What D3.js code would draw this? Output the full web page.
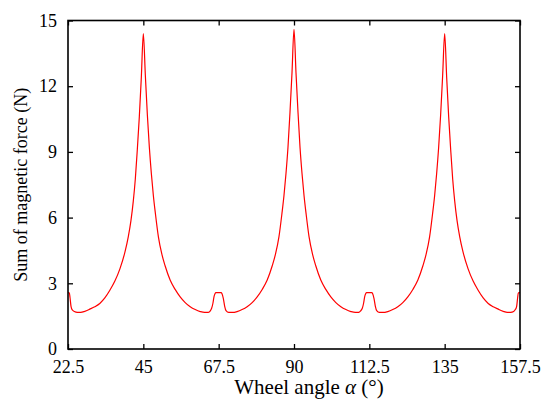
<!DOCTYPE html>
<html>
<head>
<meta charset="utf-8">
<script src="https://cdn.jsdelivr.net/npm/d3@7/dist/d3.min.js"></script>
<style>
  html, body { margin: 0; padding: 0; background: #fff; }
  svg { display: block; }
  .tick text { font-family: "Liberation Serif", "Times New Roman", serif; font-size: 18px; fill: #000; }
  .title { font-family: "Liberation Serif", "Times New Roman", serif; font-size: 18px; fill: #000; }
  .xtitle { font-size: 21px; }
</style>
</head>
<body>
<svg id="chart" width="543" height="411"></svg>
<script>
// values
const xTicks = [22.5, 45, 67.5, 90, 112.5, 135, 157.5];
const yTicks = [0, 3, 6, 9, 12, 15];

const angle = [
  22.5, 22.9, 23.1, 23.4, 23.8, 24.4, 25.3, 26.3, 27.5, 29.0, 30.5, 32.0, 33.5, 35.0, 36.5, 38.0,
  39.5, 40.5, 41.3, 42.0, 42.6, 43.2, 43.8, 44.4, 45.0,
  45.6, 46.2, 46.8, 47.4, 48.0, 48.6, 49.5, 50.5, 51.5, 53.0, 54.5, 56.0, 57.5, 59.0, 60.5, 62.0,
  63.3, 64.4, 65.0, 65.4, 65.8, 66.1, 66.4, 66.7, 68.2, 68.5, 68.9, 69.3, 69.7, 70.5,
  71.6, 73.0, 74.5, 76.0, 77.5, 79.0, 80.5, 82.0, 83.5, 84.5, 85.5, 86.4, 87.0, 87.6, 88.2, 88.8, 89.4, 90.0,
  90.6, 91.2, 91.8, 92.4, 93.0, 93.6, 94.5, 95.5, 96.5, 98.0, 99.5, 101.0, 102.5, 104.0, 105.5, 107.0,
  108.3, 109.3, 109.9, 110.4, 110.8, 111.1, 111.4, 111.7, 113.2, 113.5, 113.9, 114.3, 114.7, 115.5,
  116.5, 118.0, 119.5, 121.0, 122.5, 124.0, 125.5, 127.0, 128.5, 129.5, 130.5, 131.4, 132.0, 132.6, 133.2, 133.8, 134.4, 135.0,
  135.6, 136.2, 136.8, 137.4, 138.0, 138.7, 139.5, 140.5, 142.0, 143.5, 145.0, 146.5, 148.0, 149.5, 151.0, 152.5,
  153.7, 154.7, 155.6, 156.1, 156.5, 156.8, 157.0, 157.5
];

const force = [
  2.57, 2.56, 2.35, 1.95, 1.78, 1.71, 1.67, 1.67, 1.72, 1.82, 1.93, 2.08, 2.33, 2.68, 3.10, 3.66,
  4.42, 5.12, 5.86, 6.75, 7.75, 9.10, 10.60, 12.40, 14.40,
  12.50, 10.70, 9.20, 8.00, 7.00, 6.19, 5.12, 4.35, 3.80, 3.15, 2.72, 2.38, 2.12, 1.93, 1.80, 1.71,
  1.67, 1.67, 1.74, 1.86, 2.10, 2.38, 2.52, 2.57, 2.57, 2.52, 2.30, 1.95, 1.75, 1.67,
  1.67, 1.71, 1.80, 1.93, 2.12, 2.38, 2.72, 3.15, 3.80, 4.35, 5.12, 6.19, 7.00, 8.00, 9.20, 10.80, 12.60, 14.60,
  12.60, 10.80, 9.20, 8.00, 7.00, 6.19, 5.12, 4.35, 3.80, 3.15, 2.72, 2.38, 2.12, 1.93, 1.80, 1.71,
  1.67, 1.67, 1.74, 1.86, 2.10, 2.38, 2.52, 2.57, 2.57, 2.52, 2.30, 1.95, 1.75, 1.67,
  1.67, 1.71, 1.80, 1.93, 2.12, 2.38, 2.72, 3.15, 3.80, 4.35, 5.12, 6.19, 7.00, 8.00, 9.20, 10.70, 12.50, 14.40,
  12.40, 10.60, 9.10, 7.75, 6.75, 5.86, 5.12, 4.42, 3.66, 3.10, 2.68, 2.33, 2.08, 1.93, 1.82, 1.72,
  1.67, 1.67, 1.71, 1.80, 1.95, 2.35, 2.56, 2.57
];

const points = angle.map((a, i) => ({ a, f: force[i] }));

const svg = d3.select("#chart");
const plotLeft = 68, plotRight = 520, plotTop = 20.5, plotBottom = 349;

const x = d3.scaleLinear().domain([22.5, 157.5]).range([plotLeft, plotRight]);
const y = d3.scaleLinear().domain([0, 15]).range([plotBottom, plotTop]);

const fmt = (d) => String(d);

// bottom + top axes, ticks pointing inward
svg.append("g")
  .attr("transform", `translate(0,${plotBottom})`)
  .call(d3.axisBottom(x).tickValues(xTicks).tickFormat(fmt).tickSizeInner(-5).tickSizeOuter(0).tickPadding(11))
  .call((g) => g.select(".domain").remove());

svg.append("g")
  .attr("transform", `translate(0,${plotTop})`)
  .call(d3.axisTop(x).tickValues(xTicks).tickFormat("").tickSizeInner(-5).tickSizeOuter(0))
  .call((g) => g.select(".domain").remove());

svg.append("g")
  .attr("transform", `translate(${plotLeft},0)`)
  .call(d3.axisLeft(y).tickValues(yTicks).tickFormat(fmt).tickSizeInner(-5).tickSizeOuter(0).tickPadding(11))
  .call((g) => g.select(".domain").remove());

svg.append("g")
  .attr("transform", `translate(${plotRight},0)`)
  .call(d3.axisRight(y).tickValues(yTicks).tickFormat("").tickSizeInner(-5).tickSizeOuter(0))
  .call((g) => g.select(".domain").remove());

svg.selectAll(".tick line").attr("stroke", "#000").attr("stroke-width", 1.3);
svg.selectAll(".tick text").attr("font-family", null).attr("font-size", null);

// the curve
svg.append("path")
  .datum(points)
  .attr("fill", "none")
  .attr("stroke", "#f00")
  .attr("stroke-width", 1.2)
  .attr("stroke-linejoin", "round")
  .attr("d", d3.line().x((d) => x(d.a)).y((d) => y(d.f)).curve(d3.curveMonotoneX));

// frame
svg.append("rect")
  .attr("x", plotLeft).attr("y", plotTop)
  .attr("width", plotRight - plotLeft).attr("height", plotBottom - plotTop)
  .attr("fill", "none").attr("stroke", "#000").attr("stroke-width", 1.6);

// axis titles
const xt = svg.append("text")
  .attr("class", "title xtitle")
  .attr("x", 309)
  .attr("y", 394)
  .attr("text-anchor", "middle");
xt.append("tspan").text("Wheel angle ");
xt.append("tspan").attr("font-style", "italic").text("α");
xt.append("tspan").text(" (°)");

svg.append("text")
  .attr("class", "title")
  .attr("transform", `translate(27,${(plotTop + plotBottom) / 2}) rotate(-90)`)
  .attr("text-anchor", "middle")
  .text("Sum of magnetic force (N)");
</script>
</body>
</html>
